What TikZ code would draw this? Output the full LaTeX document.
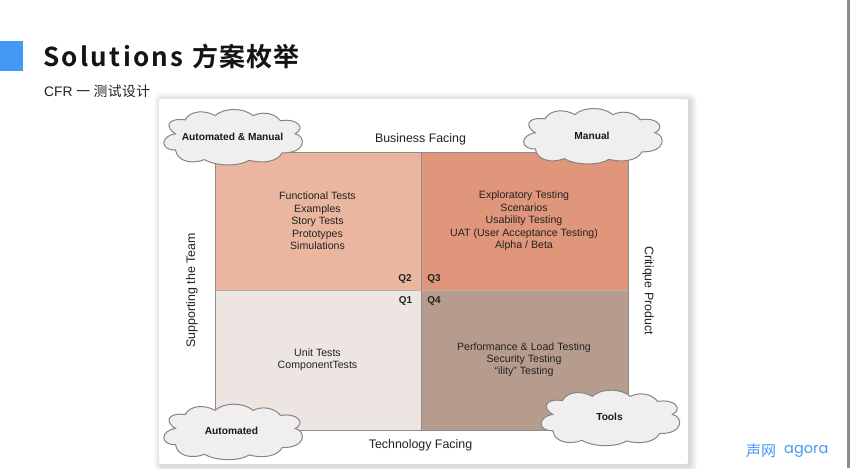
\documentclass[tikz,border=0pt]{standalone}
\usepackage{fontspec}
\setmainfont{Liberation Sans}
\newfontfamily\cjk{Noto Sans CJK SC}[BoldFont={Noto Sans CJK SC Bold}]
\newfontfamily\cjkspaced{Noto Sans CJK SC}[BoldFont={Noto Sans CJK SC Bold},LetterSpace=9]
\newfontfamily\cjktitle{Noto Sans CJK SC}[BoldFont={Noto Sans CJK SC Bold},LetterSpace=4]
\definecolor{qtwo}{HTML}{EBB6A0}
\definecolor{qthree}{HTML}{E0967A}
\definecolor{qone}{HTML}{ECE5E2}
\definecolor{qfour}{HTML}{B69C8D}
\definecolor{cloudfill}{HTML}{F0EEEF}
\definecolor{cloudline}{HTML}{858585}
\definecolor{brand}{HTML}{4499F5}
\definecolor{inktext}{HTML}{222222}
\tikzset{
  quad/.style={draw=black!45,line width=.6pt},
  lab/.style={font=\fontsize{10.6}{12.4}\selectfont,text=inktext,align=center,inner sep=0pt},
  axis/.style={font=\fontsize{12.4}{14}\selectfont,text=inktext,inner sep=0pt},
  qlab/.style={font=\fontsize{10}{12}\selectfont\bfseries,text=inktext,inner sep=0pt},
  cloudlab/.style={font=\fontsize{10.2}{12}\selectfont\bfseries,text=black!90,inner sep=0pt},
  cloudshape/.style={draw=cloudline,fill=cloudfill,line width=1pt},
}
\newcommand{\cloudat}[2]{%
  \begin{scope}[shift={(#1,#2)},xscale=.97,yscale=.97]
  \draw[cloudshape]
    (-49,-17.7) .. controls (-44,-27.5) and (-28,-28) .. (-18.3,-22)
    .. controls (-9,-30.5) and (11,-30.5) .. (21,-22)
    .. controls (29,-26) and (42,-26) .. (49.3,-16.7)
    .. controls (66,-20) and (76,-9) .. (64.3,-3.3)
    .. controls (76,-1) and (76,17) .. (51,16.3)
    .. controls (46,26) and (30,27.5) .. (17,24)
    .. controls (7,30.5) and (-17,30.5) .. (-29,23.3)
    .. controls (-41,28) and (-57,26) .. (-59,13.3)
    .. controls (-75,14) and (-75,-1) .. (-59,-3.3)
    .. controls (-70,-10) and (-68,-20) .. (-49,-17.7)
    -- cycle;
  \end{scope}}
\begin{document}
\begin{tikzpicture}[x=1pt,y=-1pt]
\useasboundingbox (0,0) rectangle (850,468);
\fill[white] (0,0) rectangle (850,468);
\fill[black!45] (847,0) rectangle (850,468);
\fill[brand] (0,41) rectangle (23,71);
\node[anchor=west,inner sep=0pt,text=black!92] (title) at (43,57) {\fontsize{26}{30}\selectfont{\cjkspaced\bfseries Solutions}\hspace{1.5pt} {\cjktitle\bfseries 方案枚举}};
\node[anchor=west,inner sep=0pt,text=inktext] (sub) at (44,91) {\fontsize{13.8}{15}\selectfont CFR {\cjk\addfontfeatures{LetterSpace=3} 一 测试设计}};
% card shadow
\foreach \r in {1,...,8}{
  \fill[black,opacity=.018,rounded corners=\r pt] ({159-\r+3},{99-\r+2}) rectangle ({688+\r+1},{464+\r+1});
}
\fill[white,rounded corners=1.5pt] (159,99) rectangle (688,464);
% quadrants
\fill[qtwo] (215,152) rectangle (421,290);
\fill[qthree] (421,152) rectangle (628,290);
\fill[qone] (215,290) rectangle (421,430);
\fill[qfour] (421,290) rectangle (628,430);
\draw[quad] (215,152) rectangle (628,430);
\draw[quad] (421,152) -- (421,430);
\draw[quad,draw=black!30] (215,290) -- (628,290);
\node[lab] (t2) at (317.5,221) {Functional Tests\\Examples\\Story Tests\\Prototypes\\Simulations};
\node[lab] (t3) at (524,221) {Exploratory Testing\\Scenarios\\Usability Testing\\UAT (User Acceptance Testing)\\Alpha / Beta};
\node[lab] (t1) at (317.5,359.5) {Unit Tests\\ComponentTests};
\node[lab] (t4) at (524,359.8) {Performance \& Load Testing\\Security Testing\\“ility” Testing};
\node[qlab] (q2) at (405,279) {Q2};
\node[qlab] (q3) at (434,279) {Q3};
\node[qlab] (q1) at (405.5,301) {Q1};
\node[qlab] (q4) at (434,301) {Q4};
\node[axis] (top) at (420.5,139) {Business Facing};
\node[axis] (bot) at (420.5,445.5) {Technology Facing};
\node[axis,rotate=90] (left) at (192,290.5) {Supporting the Team};
\node[axis,rotate=-90] (right) at (648,290.5) {Critique Product};
\cloudat{232.7}{137}
\cloudat{592.5}{136}
\cloudat{232.7}{431.7}
\cloudat{610}{417.7}
\node[cloudlab] (c1) at (232.5,137) {Automated \& Manual};
\node[cloudlab] (c2) at (592,135.5) {Manual};
\node[cloudlab] (c3) at (231.5,431) {Automated};
\node[cloudlab] (c4) at (609.5,417) {Tools};
\node[anchor=west,inner sep=0pt,text=brand] (logoa) at (746,451) {\fontsize{15}{16}\selectfont\cjk 声网};
\node[anchor=west,inner sep=0pt,text=brand] (logob) at (784,451) {\fontsize{14.5}{16}\selectfont\fontspec{Poppins} agora};
\end{tikzpicture}
\end{document}
